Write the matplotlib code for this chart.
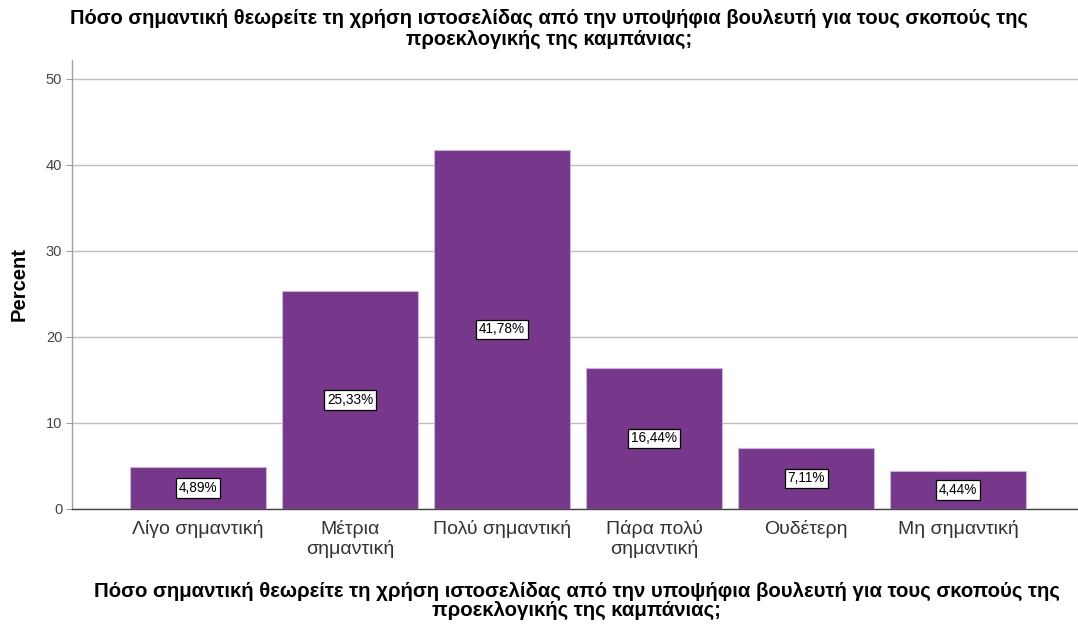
import matplotlib
matplotlib.use("Agg")
import matplotlib.pyplot as plt

categories = ["Λίγο σημαντική", "Μέτρια\nσημαντική", "Πολύ σημαντική",
              "Πάρα πολύ\nσημαντική", "Ουδέτερη", "Μη σημαντική"]
percents = [4.89, 25.33, 41.78, 16.44, 7.11, 4.44]
yticks = [0, 10, 20, 30, 40, 50]
title = ("Πόσο σημαντική θεωρείτε τη χρήση ιστοσελίδας από την υποψήφια βουλευτή για τους σκοπούς της\n"
         "προεκλογικής της καμπάνιας;")

plt.rcParams["font.family"] = ["Liberation Sans", "DejaVu Sans"]

fig = plt.figure(figsize=(10.78, 6.26), dpi=100)
ax = fig.add_axes([72 / 1078, 117 / 626, 1006 / 1078, 449 / 626])

x = list(range(len(categories)))
ax.bar(x, percents, width=0.895, color="#77378B", edgecolor="#C9B3D6",
       linewidth=0.8, zorder=3)

for xi, v in zip(x, percents):
    ax.text(xi, v / 2, f"{v:.2f}".replace(".", ",") + "%", ha="center",
            va="center", fontsize=9.8, color="black", zorder=4,
            bbox=dict(boxstyle="square,pad=0.2", facecolor="white",
                      edgecolor="black", linewidth=0.9))

ax.set_xlim(-0.829, 5.789)
ax.set_ylim(0, 52.2)
ax.set_yticks(yticks)
ax.set_yticklabels([str(t) for t in yticks], fontsize=10.5, color="#444444")
ax.set_xticks(x)
ax.set_xticklabels(categories, fontsize=14, color="#333333", linespacing=1.12)
ax.tick_params(axis="x", length=0, pad=8)
ax.tick_params(axis="y", length=4, width=0.8, color="#999999", pad=3)
ax.yaxis.grid(True, color="#C0C0C0", linewidth=1.0, zorder=0)
ax.set_axisbelow(True)

for side in ("top", "right"):
    ax.spines[side].set_visible(False)
ax.spines["left"].set_color("#A0A0A0")
ax.spines["left"].set_linewidth(1.0)
ax.spines["bottom"].set_color("#444444")
ax.spines["bottom"].set_linewidth(1.0)

ax.set_ylabel("Percent", fontsize=14.5, fontweight="bold")
ax.yaxis.set_label_coords(-43 / 1006, 0.5)

fig.text(549 / 1078, 1 - 29 / 626, title, ha="center", va="center",
         fontsize=14.5, fontweight="bold", linespacing=1.1)
fig.text(577 / 1078, 1 - 601 / 626, title, ha="center", va="center",
         fontsize=14.7, fontweight="bold", linespacing=0.97)

fig.savefig("out.png", dpi=100, facecolor="white")
